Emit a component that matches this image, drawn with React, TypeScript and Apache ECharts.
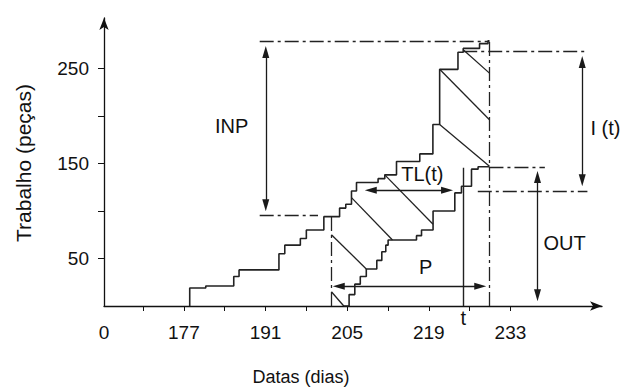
import React, { useEffect, useRef } from "react";
import * as echarts from "echarts";

// ---- axis ticks / labels ----
const xMin = 163.3;
const xMax = 248.7;
const xTickDays = [170, 177, 184, 191, 198, 205, 212, 219, 226, 233];
const xLabelDays = [177, 191, 205, 219, 233];
const xOriginLabel = "0";
const yMax = 303;
const yTickValues = [50, 100, 150, 200, 250];
const yLabelValues = [50, 150, 250];

// ---- cumulative input curve (day, pieces) ----
const inputDays = [178.0, 178.0, 180.75, 185.55, 186.46, 193.3, 194.3, 196.97, 198.0, 201.0, 203.7, 204.76, 205.74, 206.6, 210.3, 211.45, 213.46, 217.45, 219.7, 220.86, 224.0, 224.9, 227.7, 229.15, 229.4];
const inputWork = [0, 19, 21, 31, 38, 55, 64, 71, 80, 94, 103, 107, 121, 130, 134, 138, 152, 160, 191, 249, 267, 271, 276, 279, 279];

// ---- cumulative output curve (day, pieces) ----
const outputDays = [204.42, 205.33, 206.31, 207.25, 208.28, 210.08, 210.94, 211.62, 212.02, 216.89, 217.75, 219.73, 223.46, 224.6, 226.32, 227.45, 229.4];
const outputWork = [0, 12, 23, 31, 39, 48, 57, 64, 69.5, 74, 80, 100, 119, 126, 144, 146.5, 146.5];

// ---- hatch lines between curves [day1, val1, day2, val2] ----
const hatches = [
  [202.3, 15, 204.42, 0],
  [202.3, 75, 208.28, 39],
  [205.74, 114, 212.77, 69.5],
  [211.45, 138, 219.73, 86],
  [220.86, 191, 229.4, 147],
  [220.86, 249, 229.4, 196],
  [225.0, 269, 229.4, 245],
];

// ---- dash-dot reference lines ----
const dashDots = [
  [190.0, 279, 229.4, 279], // INP top
  [190.0, 95.5, 200.0, 95.5], // INP bottom
  [229.4, 0, 229.4, 279], // now line
  [202.3, 0, 202.3, 94.5], // P start
  [229.4, 146.5, 238.9, 146.5], // OUT level
  [224.9, 268.5, 245.8, 268.5], // I(t) top
  [227.4, 120.5, 246.2, 120.5], // I(t) bottom
];

// ---- solid line at t ----
const tLine = [224.88, 0, 224.88, 145.5];

// ---- double arrows (tip to tip) ----
const arrowsV = [
  [191.04, 273.5, 99.8], // INP
  [237.64, 142, 5], // OUT
  [245.31, 263, 126], // I(t)
];
const arrowsH = [
  [20.8, 202.53, 228.85], // P
  [121.9, 208.02, 223.16], // TL(t)
];

// ---- annotation labels ----
const labelNames = ["INP", "TL(t)", "P", "OUT", "I (t)", "t"];
const labelDays = [185.2, 217.9, 218.45, 242.27, 249.3, 224.9];
const labelWork = [189, 138.4, 41, 65.8, 186.8, -12.5];

const FONT = "'Liberation Sans', Arial, Helvetica, sans-serif";
const INK = "#111111";

export default function App() {
  const ref = useRef<HTMLDivElement>(null);
  useEffect(() => {
    if (!ref.current) return;
    const chart = echarts.init(ref.current, undefined, { renderer: "svg" });

    const pxPerDay = 498 / (xMax - xMin);
    const pxPerUnit = 288 / yMax;
    const headLen = 12;
    const hx = headLen / 2 / pxPerDay;
    const hy = headLen / 2 / pxPerUnit;

    const arrowLines: any[] = [];
    arrowsV.forEach(([d, a, b]) => {
      const s = a > b ? -1 : 1;
      arrowLines.push({ coords: [[d, a + s * hy], [d, b - s * hy]] });
    });
    arrowsH.forEach(([v, a, b]) => {
      arrowLines.push({ coords: [[a + hx, v], [b - hx, v]] });
    });

    const axisTitles = [
      {
        type: "text",
        x: 301,
        y: 377,
        style: {
          text: "Datas (dias)",
          font: `18px ${FONT}`,
          fill: INK,
          textAlign: "center",
          textVerticalAlign: "middle",
        },
      },
      {
        type: "text",
        x: 23,
        y: 163,
        rotation: Math.PI / 2,
        style: {
          text: "Trabalho (peças)",
          font: `21px ${FONT}`,
          fill: INK,
          textAlign: "center",
          textVerticalAlign: "middle",
        },
      },
    ];

    const option: any = {
      animation: false,
      backgroundColor: "#ffffff",
      grid: { left: 104, top: 18, width: 498, height: 288, containLabel: false },
      xAxis: {
        type: "value",
        min: xMin,
        max: xMax,
        axisLine: {
          show: true,
          onZero: false,
          symbol: ["none", "arrow"],
          symbolSize: [7, 12],
          lineStyle: { color: INK, width: 1.3 },
        },
        axisTick: {
          show: true,
          customValues: xTickDays,
          length: 5,
          lineStyle: { color: INK, width: 1 },
        },
        axisLabel: {
          customValues: [xMin, ...xLabelDays],
          showMinLabel: true,
          formatter: (v: number) => (v < 170 ? xOriginLabel : String(Math.round(v))),
          margin: 17,
          fontSize: 19,
          color: INK,
          fontFamily: FONT,
        },
        splitLine: { show: false },
      },
      yAxis: {
        type: "value",
        min: 0,
        max: yMax,
        axisLine: {
          show: true,
          onZero: false,
          symbol: ["none", "arrow"],
          symbolSize: [7, 12],
          lineStyle: { color: INK, width: 1.3 },
        },
        axisTick: {
          show: true,
          customValues: yTickValues,
          length: 6,
          lineStyle: { color: INK, width: 1 },
        },
        axisLabel: {
          customValues: yLabelValues,
          margin: 15,
          fontSize: 19,
          color: INK,
          fontFamily: FONT,
        },
        splitLine: { show: false },
      },
      graphic: axisTitles,
      series: [
        {
          type: "line",
          name: "Entrada",
          step: "end",
          symbol: "none",
          data: inputDays.map((d, i) => [d, inputWork[i]]),
          lineStyle: { color: "#222", width: 1.6 },
          silent: true,
        },
        {
          type: "line",
          name: "Saída",
          step: "end",
          symbol: "none",
          data: outputDays.map((d, i) => [d, outputWork[i]]),
          lineStyle: { color: "#222", width: 1.6 },
          silent: true,
        },
        {
          type: "lines",
          coordinateSystem: "cartesian2d",
          symbol: "none",
          data: hatches.map(([a, b, c, d]) => ({ coords: [[a, b], [c, d]] })),
          lineStyle: { color: "#222", width: 1.3, type: "solid", opacity: 1 },
          silent: true,
        },
        {
          type: "lines",
          coordinateSystem: "cartesian2d",
          symbol: "none",
          data: dashDots.map(([a, b, c, d]) => ({ coords: [[a, b], [c, d]] })),
          lineStyle: { color: "#222", width: 1.3, type: [14, 4, 3, 4], opacity: 1 },
          silent: true,
        },
        {
          type: "lines",
          coordinateSystem: "cartesian2d",
          symbol: "none",
          data: [{ coords: [[tLine[0], tLine[1]], [tLine[2], tLine[3]]] }],
          lineStyle: { color: "#222", width: 1.4, type: "solid", opacity: 1 },
          silent: true,
        },
        {
          type: "lines",
          coordinateSystem: "cartesian2d",
          symbol: ["triangle", "triangle"],
          symbolSize: [[7, headLen], [7, headLen]],
          data: arrowLines,
          lineStyle: { color: "#1a1a1a", width: 1.3, type: "solid", opacity: 1 },
          itemStyle: { color: "#1a1a1a" },
          silent: true,
        },
      ],
    };
    chart.setOption(option);

    // annotation texts placed through the chart's own scales
    const annotations = labelNames.map((n, i) => {
      const p = chart.convertToPixel({ gridIndex: 0 }, [labelDays[i], labelWork[i]]) as number[];
      return {
        type: "text",
        x: p[0],
        y: p[1],
        style: {
          text: n,
          font: `20px ${FONT}`,
          fill: INK,
          textAlign: "center",
          textVerticalAlign: "middle",
        },
      };
    });
    chart.setOption({ graphic: [...axisTitles, ...annotations] });

    return () => chart.dispose();
  }, []);

  return (
    <div
      ref={ref}
      style={{ position: "fixed", left: 0, top: 0, width: 623, height: 389, background: "#fff" }}
    />
  );
}
